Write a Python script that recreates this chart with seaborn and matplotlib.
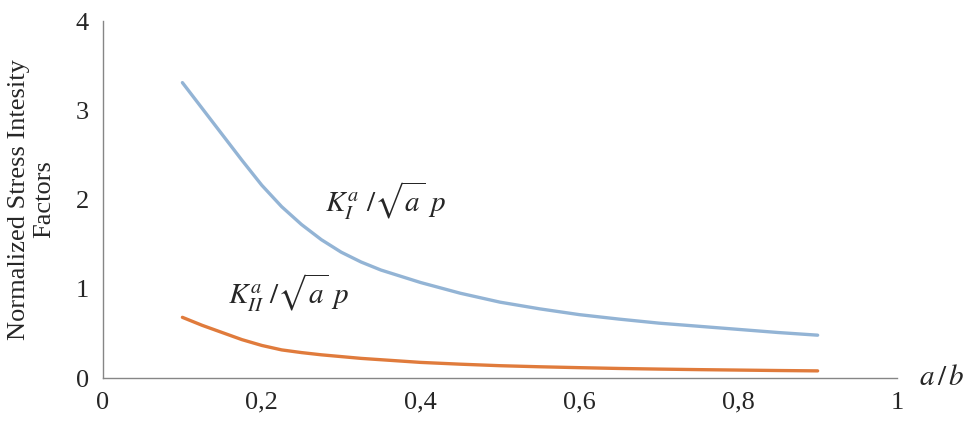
import matplotlib
matplotlib.use("Agg")
import matplotlib.pyplot as plt
import seaborn as sns
import pandas as pd

# values
a_b = [0.100, 0.125, 0.150, 0.175, 0.200, 0.225, 0.250, 0.275, 0.300, 0.325,
       0.35, 0.40, 0.45, 0.50, 0.55, 0.60, 0.65, 0.70, 0.75, 0.80, 0.85, 0.90]
k_one = [3.31, 3.02, 2.73, 2.44, 2.16, 1.92, 1.72, 1.55, 1.41, 1.30,
         1.21, 1.07, 0.95, 0.85, 0.775, 0.71, 0.66, 0.615, 0.58, 0.545, 0.51, 0.48]
k_two = [0.68, 0.59, 0.51, 0.43, 0.365, 0.315, 0.285, 0.26, 0.24, 0.22,
         0.205, 0.175, 0.155, 0.138, 0.126, 0.116, 0.107, 0.10, 0.094, 0.089, 0.084, 0.08]
x_ticks = [0, 0.2, 0.4, 0.6, 0.8, 1]
x_tick_labels = ["0", "0,2", "0,4", "0,6", "0,8", "1"]
y_ticks = [0, 1, 2, 3, 4]

df = pd.DataFrame({"a_b": a_b, "KI": k_one, "KII": k_two})

sns.set_style("white")
plt.rcParams["font.family"] = ["Liberation Serif", "DejaVu Serif"]
plt.rcParams["mathtext.fontset"] = "stix"

fig = plt.figure(figsize=(9.68, 4.21), dpi=100)
ax = fig.add_axes([0.1064, 0.1021, 0.8203, 0.8479])

sns.lineplot(data=df, x="a_b", y="KI", ax=ax, color="#93b4d5", linewidth=2.4)
sns.lineplot(data=df, x="a_b", y="KII", ax=ax, color="#e07b3c", linewidth=2.4)

ax.set_xlim(0, 1)
ax.set_ylim(0, 4)
ax.set_xticks(x_ticks)
ax.set_xticklabels(x_tick_labels)
ax.set_yticks(y_ticks)
ax.tick_params(axis="both", direction="out", length=5, width=1, color="#868686",
               labelsize=19, pad=5)

for side in ["top", "right"]:
    ax.spines[side].set_visible(False)
for side in ["left", "bottom"]:
    ax.spines[side].set_color("#868686")
    ax.spines[side].set_linewidth(1)

ax.set_xlabel("")
ax.set_ylabel("Normalized Stress Intesity\nFactors", fontsize=19, labelpad=15,
              linespacing=1.15)

ax.text(0.28, 1.99, r"$K_I^a\ /\sqrt{a}\ p$", fontsize=21, va="center", ha="left")
ax.text(0.157, 0.95, r"$K_{II}^a\ /\sqrt{a}\ p$", fontsize=21, va="center", ha="left")
ax.text(1.028, 0.0, r"$a\,/\,b$", fontsize=21, va="center", ha="left", clip_on=False)

fig.savefig("out.png", dpi=100)
